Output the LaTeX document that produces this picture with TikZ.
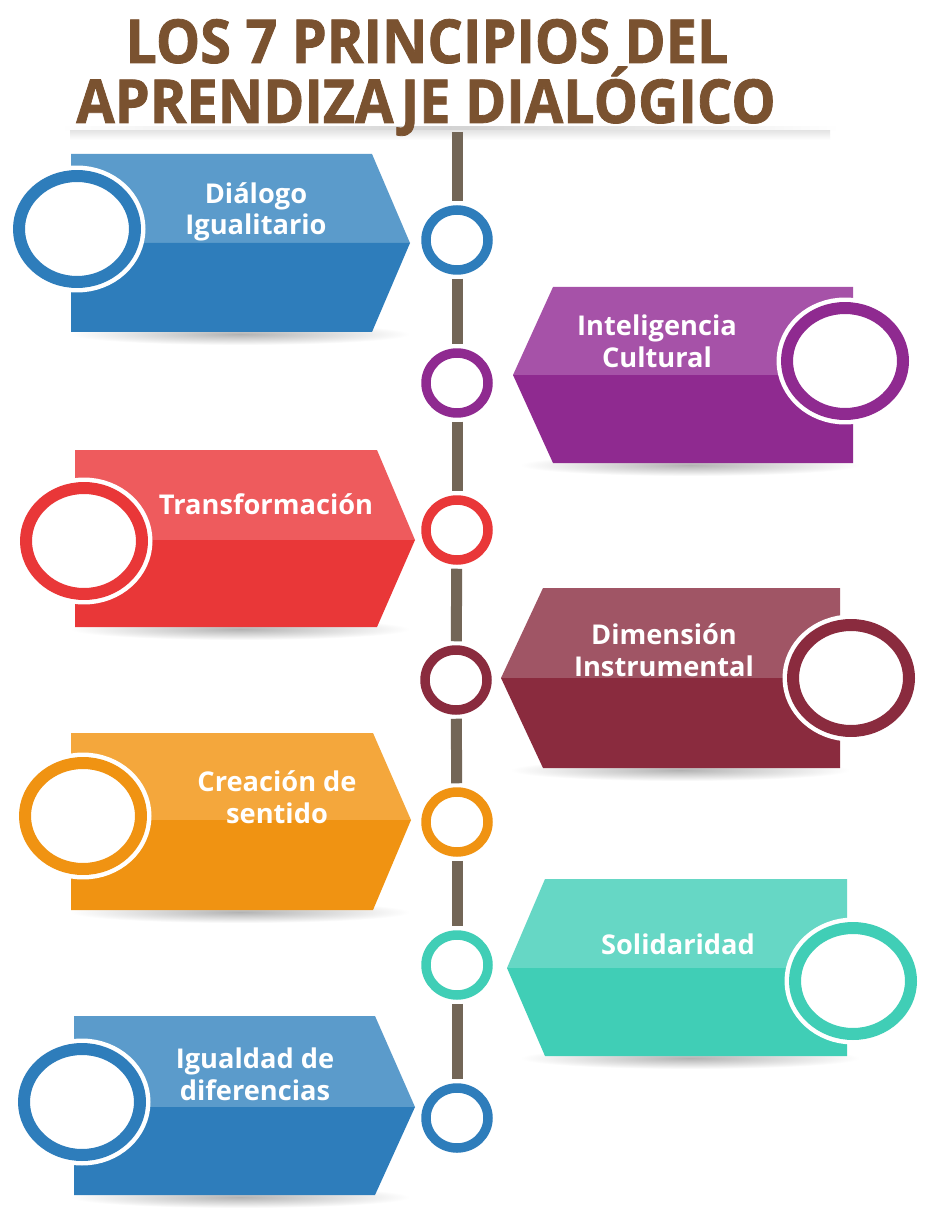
\documentclass[tikz,border=0pt]{standalone}
\usepackage{fontspec}
\newfontfamily\headfont[FakeStretch=0.92, FakeBold=1.3]{Open Sans}
\newfontfamily\cardfont{Open Sans}
\usetikzlibrary{shapes.geometric}

\definecolor{titlebrown}{HTML}{7A5230}
\definecolor{barcol}{HTML}{736657}
\definecolor{bluetop}{HTML}{5B9BCB}
\definecolor{bluebot}{HTML}{2E7DBB}
\definecolor{purpletop}{HTML}{A652A8}
\definecolor{purplebot}{HTML}{8F2A90}
\definecolor{redtop}{HTML}{EE5B5D}
\definecolor{redbot}{HTML}{E93738}
\definecolor{maroontop}{HTML}{A05565}
\definecolor{maroonbot}{HTML}{8A2B3E}
\definecolor{orangetop}{HTML}{F4A73C}
\definecolor{orangebot}{HTML}{F09312}
\definecolor{tealtop}{HTML}{66D7C5}
\definecolor{tealbot}{HTML}{40CEB6}

\tikzset{
	ring/.style={ellipse, draw=#1, fill=white, line width=0.24cm, minimum width=2.32cm, minimum height=2.12cm, inner sep=0pt, preaction={draw=white, line width=0.42cm}},
	dot/.style={ellipse, draw=#1, fill=white, line width=0.19cm, minimum width=1.24cm, minimum height=1.20cm, inner sep=0pt, preaction={draw=white, line width=0.35cm}},
	pname/.style={text=white, font=\cardfont\bfseries\fontsize{15.5}{18}\selectfont, align=center, inner sep=0pt},
	heading/.style={text=titlebrown, font=\headfont\bfseries\fontsize{34.5}{40}\selectfont, anchor=base, inner sep=0pt},
	bar/.style={draw=barcol, line width=0.22cm, shorten <=0.08cm, shorten >=0.08cm},
	shadow/.style={inner color=gray!60, outer color=white}
}

\begin{document}
\begin{tikzpicture}[x=0.02cm, y=-0.02cm]
	\useasboundingbox[fill=white] (0,0) rectangle (946,1229);

	\shade[left color=white, right color=white, middle color=gray!35] (60,127) rectangle (840,131);
	\shade[top color=gray!20, bottom color=white] (70,131) rectangle (830,140);
	\node[heading] (title1) at (427, 63) {LOS 7 PRINCIPIOS DEL};
	\node[heading] (title2) at (426,123) {APRENDIZAJE DIALÓGICO};

	\shade[shadow] (240,334) ellipse [x radius=3.4cm, y radius=0.22cm];
	\shade[shadow] (690,465) ellipse [x radius=3.4cm, y radius=0.22cm];
	\shade[shadow] (240,629) ellipse [x radius=3.4cm, y radius=0.22cm];
	\shade[shadow] (680,770) ellipse [x radius=3.4cm, y radius=0.22cm];
	\shade[shadow] (240,912) ellipse [x radius=3.4cm, y radius=0.22cm];
	\shade[shadow] (690,1058) ellipse [x radius=3.4cm, y radius=0.22cm];
	\shade[shadow] (240,1197) ellipse [x radius=3.4cm, y radius=0.22cm];

	\fill[bluetop]   (71,154) -- (372,154) -- (410,243) -- (71,243) -- cycle;
	\fill[bluebot]   (71,243) -- (410,243) -- (372,332) -- (71,332) -- cycle;
	\fill[purpletop] (853,287) -- (553,287) -- (513,375) -- (853,375) -- cycle;
	\fill[purplebot] (853,375) -- (513,375) -- (553,463) -- (853,463) -- cycle;
	\fill[redtop]    (75,450) -- (377,450) -- (415,540) -- (75,540) -- cycle;
	\fill[redbot]    (75,540) -- (415,540) -- (377,627) -- (75,627) -- cycle;
	\fill[maroontop] (840,588) -- (543,588) -- (501,678) -- (840,678) -- cycle;
	\fill[maroonbot] (840,678) -- (501,678) -- (543,768) -- (840,768) -- cycle;
	\fill[orangetop] (71,733) -- (373,733) -- (411,820) -- (71,820) -- cycle;
	\fill[orangebot] (71,820) -- (411,820) -- (373,910) -- (71,910) -- cycle;
	\fill[tealtop]   (847,879) -- (545,879) -- (507,968) -- (847,968) -- cycle;
	\fill[tealbot]   (847,968) -- (507,968) -- (545,1056) -- (847,1056) -- cycle;
	\fill[bluetop]   (74,1016) -- (375,1016) -- (415,1107) -- (74,1107) -- cycle;
	\fill[bluebot]   (74,1107) -- (415,1107) -- (375,1195) -- (74,1195) -- cycle;

	\node[ring=bluebot]   (b1) at ( 77, 229) {};
	\node[ring=purplebot] (b2) at (845, 361) {};
	\node[ring=redbot]    (b3) at ( 84, 541) {};
	\node[ring=maroonbot] (b4) at (851, 678) {};
	\node[ring=orangebot] (b5) at ( 83, 816) {};
	\node[ring=tealbot]   (b6) at (853, 981) {};
	\node[ring=bluebot]   (b7) at ( 82,1102) {};

	\node[pname] (dialogo)   at (256, 212) {Diálogo\\Igualitario};
	\node[pname] (cultural)  at (657, 341) {Inteligencia\\Cultural};
	\node[pname] (transform) at (266, 504) {Transformación};
	\node[pname] (instrum)   at (664, 650) {Dimensión\\Instrumental};
	\node[pname] (sentido)   at (277, 797) {Creación de\\sentido};
	\node[pname] (solidar)   at (678, 944) {Solidaridad};
	\node[pname] (igualdad)  at (255,1074) {Igualdad de\\diferencias};

	\coordinate (bartop) at (457,132);
	\node[dot=bluebot]   (s1) at (457, 240) {};
	\node[dot=purplebot] (s2) at (457, 383) {};
	\node[dot=redbot]    (s3) at (457, 530) {};
	\node[dot=maroonbot] (s4) at (456, 680) {};
	\node[dot=orangebot] (s5) at (457, 822) {};
	\node[dot=tealbot]   (s6) at (457, 965) {};
	\node[dot=bluebot]   (s7) at (457,1118) {};
	\draw[bar, shorten <=0pt] (bartop) -- (s1);
	\draw[bar] (s1) -- (s2);
	\draw[bar] (s2) -- (s3);
	\draw[bar] (s3) -- (s4);
	\draw[bar] (s4) -- (s5);
	\draw[bar] (s5) -- (s6);
	\draw[bar] (s6) -- (s7);
\end{tikzpicture}
\end{document}
